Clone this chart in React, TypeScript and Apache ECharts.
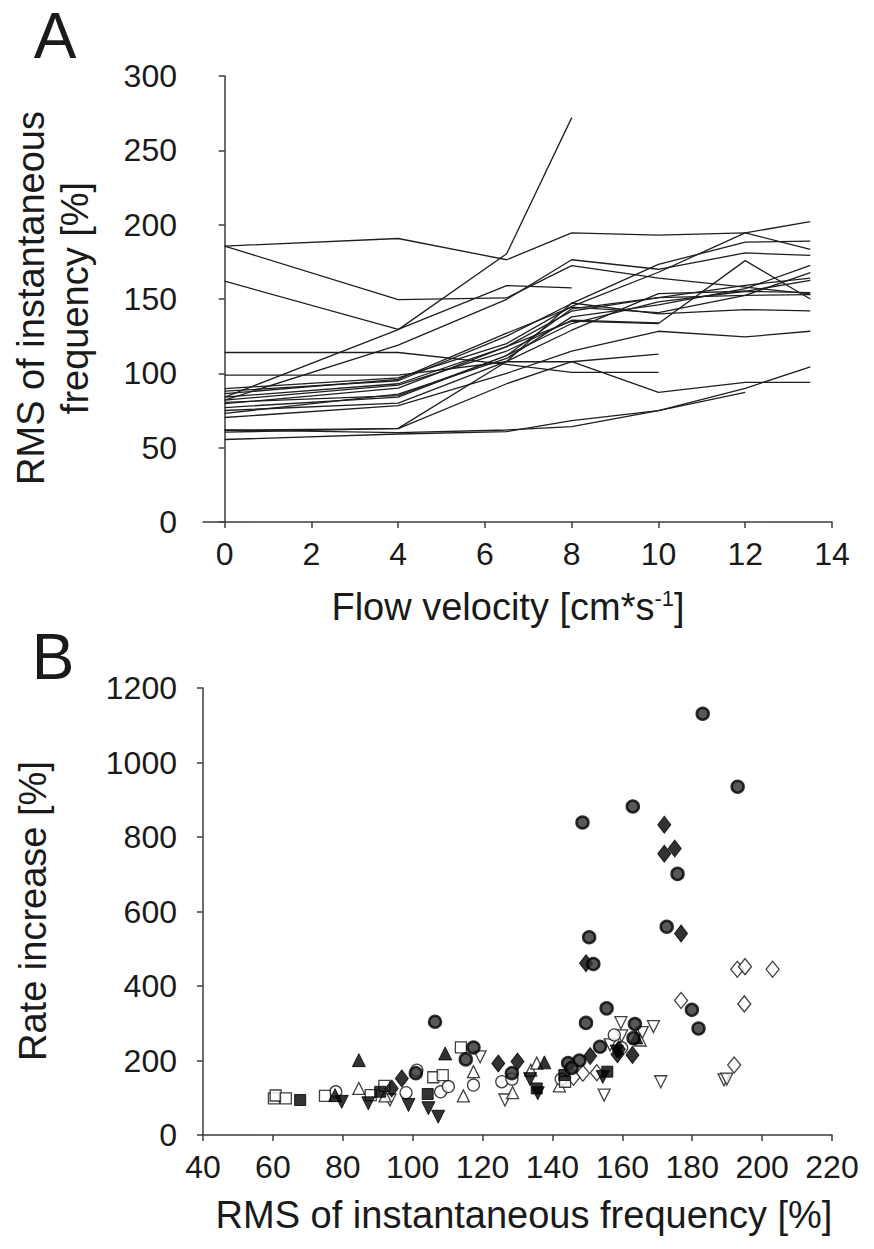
import React, { useEffect, useRef } from "react";
import * as echarts from "echarts";

// ---------- Panel A data ----------
const VELOCITY = [0, 4, 6.5, 8, 10, 12, 13.5];
const VEL_TICKS = [0, 2, 4, 6, 8, 10, 12, 14];
const RMS_TICKS_A = [0, 50, 100, 150, 200, 250, 300];

// RMS of instantaneous frequency [%] per animal at each velocity (null = not measured)
const A01 = [185.6, 190.7, 176.4, 194.5, 193, 194.5, 183.3];
const A02 = [185.6, 149.6, 150.7, 172.5, 164, 158, 153.5];
const A03 = [84, 129.4, 180.4, 272, null, null, null];
const A04 = [162, 129.5, 159, 157.5, null, null, null];
const A05 = [82, 119, 149.8, 176.4, 170, 181, 179.3];
const A06 = [114, 114, 106, 100.6, 100.6, null, null];
const A07 = [98.8, 98.8, 107.8, 107.8, 87.2, 93.9, 93.9];
const A08 = [61.7, 62.8, 93, 107.8, 112.9, null, null];
const A09 = [61.9, 60.1, 61.9, 64.2, 74.9, 87.2, null];
const A10 = [55.5, 59.2, 60.8, 68.2, 74.9, 89.9, 104.4];
const A11 = [89.7, 97, 120, 145, 168, 194.5, 202];
const A12 = [88, 95, 125, 147, 173.3, 188.2, 188.9];
const A13 = [86.3, 96, 127, 144.6, 140.8, 152.5, 167.7];
const A14 = [84, 93, 118, 135.1, 133.5, 175.8, 150];
const A15 = [82, 92, 115, 135.7, 134, null, null];
const A16 = [79.6, 90, 118, 141.8, 150.9, 159.2, 164.1];
const A17 = [77, 84, 112, 133.5, 148, 155.2, 162.5];
const A18 = [75, 80, 108, 129, 153.6, 155.2, 154.3];
const A19 = [70.3, 78.3, 100, 115, 128.3, 124.5, 128.3];
const A20 = [60.4, 63, 108, 147.3, 140, 142.9, 142];
const A21 = [80.5, 85, 112, 143.4, 150.9, 152.5, 152.9];
const A22 = [73, 86, 110, 138, 146, 157, 172.6];

const LINES_A = [A01, A02, A03, A04, A05, A06, A07, A08, A09, A10, A11, A12, A13, A14, A15, A16, A17, A18, A19, A20, A21, A22];

// ---------- Panel B data: [RMS %, rate increase %] ----------
const RMS_TICKS_B = [40, 60, 80, 100, 120, 140, 160, 180, 200, 220];
const RATE_TICKS_B = [0, 200, 400, 600, 800, 1000, 1200];

const FILLED_CIRCLE = [
  [183, 1131], [193, 935], [163, 882], [148.6, 839], [175.8, 701], [172.7, 559], [150.5, 531],
  [151.7, 459], [155.5, 340], [149.6, 301], [163.6, 298], [179.9, 336], [181.8, 286], [153.6, 237],
  [147.7, 200], [144.5, 193], [163.2, 260], [106.4, 304], [117.4, 235], [115.2, 203], [100.9, 166],
  [128.4, 166], [145.5, 180],
];
const FILLED_DIAMOND = [
  [172, 833], [172, 755], [175, 769], [176.8, 541], [149.6, 461], [150.8, 212], [158.6, 217],
  [162.9, 215], [130, 197], [124.5, 192], [96.9, 152], [94, 125], [159, 230],
];
const FILLED_TRI_UP = [[84.6, 201], [109.3, 219], [137.7, 195], [77.8, 107], [164, 262]];
const FILLED_TRI_DOWN = [
  [79.7, 89], [87.3, 85], [98.8, 80.5], [104.5, 72], [107.3, 49], [133.6, 150], [135.8, 112],
  [154.4, 156], [158.4, 224],
];
const FILLED_SQUARE = [[67.8, 94], [104.3, 110], [90.7, 116], [155.7, 170], [143.4, 161], [135.5, 125]];
const OPEN_SQUARE = [
  [60.3, 98.5], [60.8, 106], [63.7, 98.5], [74.9, 105], [91.9, 132], [88, 107], [105.9, 155],
  [108.6, 161], [113.8, 235], [143.6, 143],
];
const OPEN_CIRCLE = [
  [78, 116], [101.2, 174], [98.1, 113.5], [108, 116], [110.2, 130], [117.4, 134], [125.5, 143],
  [128.4, 150], [157.7, 268.5], [159.8, 234], [142.5, 150],
];
const OPEN_TRI_UP = [
  [84.6, 125], [92.1, 105], [114.5, 105], [117.4, 170], [128.6, 113.5], [133.8, 174], [135.5, 193],
  [142, 132], [165.1, 255],
];
const OPEN_TRI_DOWN = [
  [93.5, 94], [119.3, 210], [126.4, 94], [159.6, 301.5], [168.9, 291], [165.7, 275], [159.8, 266],
  [156.5, 242], [171, 143], [189.1, 148], [189.9, 150], [154.8, 107],
];
const OPEN_DIAMOND = [
  [192.9, 445], [195.1, 452], [203, 445], [176.8, 361], [194.9, 352], [192, 188], [148.7, 166],
  [152.7, 167], [146, 155],
];

const FONT = "'Liberation Sans', Arial, Helvetica, sans-serif";
const INK = "#1a1a1a";
const AXIS = "#3c3c3c";

export default function App() {
  const ref = useRef<HTMLDivElement>(null);

  useEffect(() => {
    if (!ref.current) return;
    const chart = echarts.init(ref.current, null, { renderer: "svg" });

    const axisCommon = {
      axisLine: { show: true, lineStyle: { color: AXIS, width: 1.5 } },
      axisTick: { show: true, inside: false, length: 6, lineStyle: { color: AXIS, width: 1.5 } },
      splitLine: { show: false },
    };
    const labelStyle = {
      color: INK,
      fontSize: 32,
      fontFamily: FONT,
      formatter: (v: number) => String(v),
    };

    const lineSeries = LINES_A.map((vals, i) => ({
      type: "line",
      name: "A" + (i + 1),
      xAxisIndex: 0,
      yAxisIndex: 0,
      symbol: "none",
      silent: true,
      lineStyle: { color: "#1e1e1e", width: 1.3 },
      data: VELOCITY.map((v, j) => (vals[j] == null ? null : [v, vals[j]])).filter((d) => d !== null),
    }));

    const filled = { color: "#000", borderColor: "#000", borderWidth: 1 };
    const open = { color: "#fff", borderColor: "#111", borderWidth: 1.3 };

    const sc = (name: string, data: number[][], symbol: string, size: any, style: any, rotate = 0) => ({
      type: "scatter",
      name,
      xAxisIndex: 1,
      yAxisIndex: 1,
      symbol,
      symbolSize: size,
      symbolRotate: rotate,
      itemStyle: style,
      data,
    });

    const scatterSeries = [
      sc("open diamond", OPEN_DIAMOND, "diamond", [13, 16], open),
      sc("open triangle down", OPEN_TRI_DOWN, "triangle", 12, open, 180),
      sc("open triangle up", OPEN_TRI_UP, "triangle", 12, open),
      sc("open circle", OPEN_CIRCLE, "circle", 12, open),
      sc("open square", OPEN_SQUARE, "rect", 11, open),
      sc("filled square", FILLED_SQUARE, "rect", 11, filled),
      sc("filled triangle down", FILLED_TRI_DOWN, "triangle", 13, filled, 180),
      sc("filled triangle up", FILLED_TRI_UP, "triangle", 13, filled),
      sc("filled diamond", FILLED_DIAMOND, "diamond", [13, 17], filled),
      sc("filled circle", FILLED_CIRCLE, "circle", 12, { color: "#2e2e2e", borderColor: "#000", borderWidth: 2.5 }),
    ];

    chart.setOption({
      animation: false,
      backgroundColor: "#ffffff",
      textStyle: { fontFamily: FONT },
      grid: [
        { left: 203, right: 42, top: 76, bottom: 1249 - 522 },
        { left: 203, right: 42, top: 688, bottom: 1249 - 1135 },
      ],
      xAxis: [
        {
          type: "value",
          gridIndex: 0,
          min: -0.5,
          max: 14,
          ...axisCommon,
          axisTick: { ...axisCommon.axisTick, customValues: VEL_TICKS },
          axisLabel: { ...labelStyle, margin: 16, customValues: VEL_TICKS },
        },
        {
          type: "value",
          gridIndex: 1,
          min: 40,
          max: 220,
          interval: 20,
          ...axisCommon,
          axisLabel: { ...labelStyle, margin: 16, customValues: RMS_TICKS_B },
          axisTick: { ...axisCommon.axisTick, customValues: RMS_TICKS_B },
        },
      ],
      yAxis: [
        {
          type: "value",
          gridIndex: 0,
          min: 0,
          max: 300,
          interval: 50,
          ...axisCommon,
          axisLabel: { ...labelStyle, margin: 26, customValues: RMS_TICKS_A },
          axisTick: { ...axisCommon.axisTick, customValues: RMS_TICKS_A },
        },
        {
          type: "value",
          gridIndex: 1,
          min: 0,
          max: 1200,
          interval: 200,
          ...axisCommon,
          axisLabel: { ...labelStyle, margin: 26, customValues: RATE_TICKS_B },
          axisTick: { ...axisCommon.axisTick, customValues: RATE_TICKS_B },
        },
      ],
      graphic: [
        { type: "text", x: 55, y: 36, style: { text: "A", fontSize: 64, fontFamily: FONT, fill: INK, align: "center", verticalAlign: "middle" } },
        { type: "text", x: 53, y: 657, style: { text: "B", fontSize: 64, fontFamily: FONT, fill: INK, align: "center", verticalAlign: "middle" } },
        {
          type: "text", x: 31, y: 298, rotation: Math.PI / 2,
          style: { text: "RMS of instantaneous", fontSize: 38, fontFamily: FONT, fill: INK, align: "center", verticalAlign: "middle" },
        },
        {
          type: "text", x: 75, y: 298, rotation: Math.PI / 2,
          style: { text: "frequency [%]", fontSize: 38, fontFamily: FONT, fill: INK, align: "center", verticalAlign: "middle" },
        },
        {
          type: "text", x: 33, y: 911, rotation: Math.PI / 2,
          style: { text: "Rate increase [%]", fontSize: 38, fontFamily: FONT, fill: INK, align: "center", verticalAlign: "middle" },
        },
        {
          type: "text", x: 508, y: 607,
          style: {
            text: "Flow velocity [cm*s{sup|-1}]",
            fontSize: 38, fontFamily: FONT, fill: INK, align: "center", verticalAlign: "middle",
            rich: { sup: { fontSize: 22, fontFamily: FONT, fill: INK, padding: [0, 0, 18, 0] } },
          },
        },
        {
          type: "text", x: 524, y: 1215,
          style: { text: "RMS of instantaneous frequency [%]", fontSize: 38, fontFamily: FONT, fill: INK, align: "center", verticalAlign: "middle" },
        },
      ],
      series: [...lineSeries, ...scatterSeries],
    });

    return () => chart.dispose();
  }, []);

  return (
    <div
      ref={ref}
      style={{ position: "absolute", left: 0, top: 0, width: 874, height: 1249, background: "#fff" }}
    />
  );
}
